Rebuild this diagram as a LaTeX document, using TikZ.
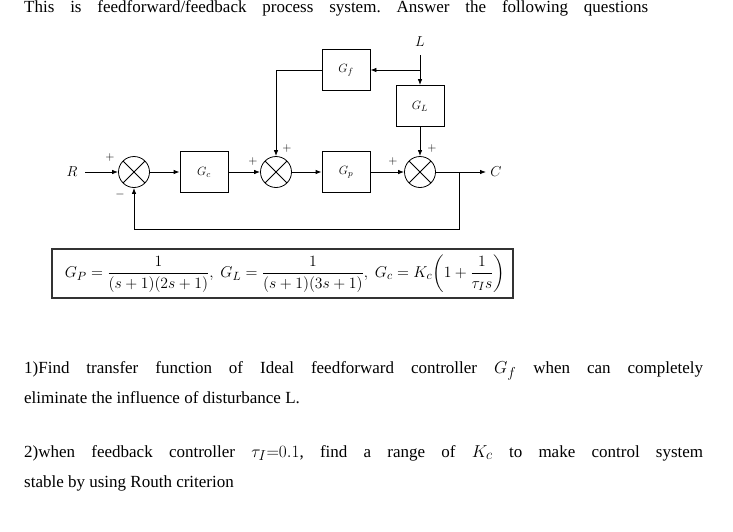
\documentclass[tikz,border=0pt]{standalone}
\usepackage{amsmath}
\usepackage{graphicx}
\usepackage{fontspec}
\setmainfont{Liberation Serif}
\usetikzlibrary{arrows.meta,positioning}

\newcommand{\qmath}[1]{\mbox{\fontsize{19}{20}\selectfont$#1$}}

\tikzset{
  blk/.style={draw, thick, minimum width=48pt, minimum height=41pt, inner sep=0pt,
    font=\fontsize{12.5}{14}\selectfont},
  sumnode/.style={draw, thick, circle, minimum size=31pt, inner sep=0pt,
    path picture={
      \draw[thick] (path picture bounding box.north west) -- (path picture bounding box.south east);
      \draw[thick] (path picture bounding box.south west) -- (path picture bounding box.north east);}},
  sig/.style={-{Latex[length=6pt,width=4.5pt]}, thick},
  sgn/.style={font=\fontsize{12}{13}\selectfont, inner sep=0pt},
  lbl/.style={font=\fontsize{14}{16}\selectfont, inner sep=0pt},
  txt/.style={font=\fontsize{17}{20}\selectfont\frenchspacing, inner sep=0pt, anchor=base west},
}

\begin{document}
\begin{tikzpicture}[x=1pt,y=-1pt]
    \useasboundingbox (0,0) rectangle (733,531);

    \def\ym{172}   % main line
    \def\yfb{229}  % feedback line
    \def\xL{420}   % disturbance line

    % title
    \node[txt] (title) at (24,12) {\makebox[624pt][s]{This is feedforward/feedback process system. Answer the following questions}};

    % summing junctions
    \node[sumnode] (s1) at (134,\ym) {};
    \node[sumnode] (s2) at (276,\ym) {};
    \node[sumnode] (s3) at (\xL,\ym) {};

    % blocks
    \node[blk] (gc) at (204,\ym) {$G_c$};
    \node[blk] (gp) at (346,\ym) {$G_p$};
    \node[blk] (gf) at (346,70)  {$G_f$};
    \node[blk] (gl) at (\xL,106) {$G_L$};

    % signals in / out
    \node[lbl] (r) at (72,\ym)  {$R$};
    \node[lbl] (c) at (496,\ym) {$C$};
    \node[lbl] (l) at (\xL,42)  {$L$};
    \coordinate (rin)  at (85,\ym);
    \coordinate (cout) at (486,\ym);
    \coordinate (lin)  at (\xL,55);
    \coordinate (lbr)  at (\xL,70);
    \coordinate (fbr)  at (459,\ym);

    % forward path
    \draw[sig] (rin) -- (s1.west);
    \draw[sig] (s1.east) -- (gc.west);
    \draw[sig] (gc.east) -- (s2.west);
    \draw[sig] (s2.east) -- (gp.west);
    \draw[sig] (gp.east) -- (s3.west);
    \draw[sig] (s3.east) -- (cout);

    % feedback
    \draw[sig] (fbr) -- (459,\yfb) -| (s1.south);

    % disturbance and feedforward
    \draw[sig] (lin) -- (gl.north);
    \draw[sig] (lbr) -- (gf.east);
    \draw[sig] (gf.west) -| (s2.north);
    \draw[sig] (gl.south) -- (s3.north);

    % signs
    \node[sgn] (p1)  at (110,157) {$+$};
    \node[sgn] (m1)  at (120,194) {$-$};
    \node[sgn] (p2a) at (253,161) {$+$};
    \node[sgn] (p2b) at (287,148) {$+$};
    \node[sgn] (p3a) at (393,161) {$+$};
    \node[sgn] (p3b) at (432,148) {$+$};

    % formula box
    \draw[line width=1.6pt, black!80] (52,249) rectangle (513,298);
    \node[font=\fontsize{15.5}{18}\selectfont] (eq) at (285,273.5)
      {\scalebox{1.09}{$G_P=\dfrac{1}{(s+1)(2s+1)},\ G_L=\dfrac{1}{(s+1)(3s+1)},\ G_c=K_c\!\left(1+\dfrac{1}{\tau_I s}\right)$}};

    % questions
    \node[txt] (q1a) at (24,373) {\makebox[679pt][s]{1)Find transfer function of Ideal feedforward controller \qmath{G_f} when can completely}};
    \node[txt] (q1b) at (24,403) {eliminate the influence of disturbance L.};
    \node[txt] (q2a) at (24,457) {\makebox[679pt][s]{2)when feedback controller \qmath{\tau_I{=}0.1}, find a range of \qmath{K_c} to make control system}};
    \node[txt] (q2b) at (24,487) {stable by using Routh criterion};
\end{tikzpicture}
\end{document}
